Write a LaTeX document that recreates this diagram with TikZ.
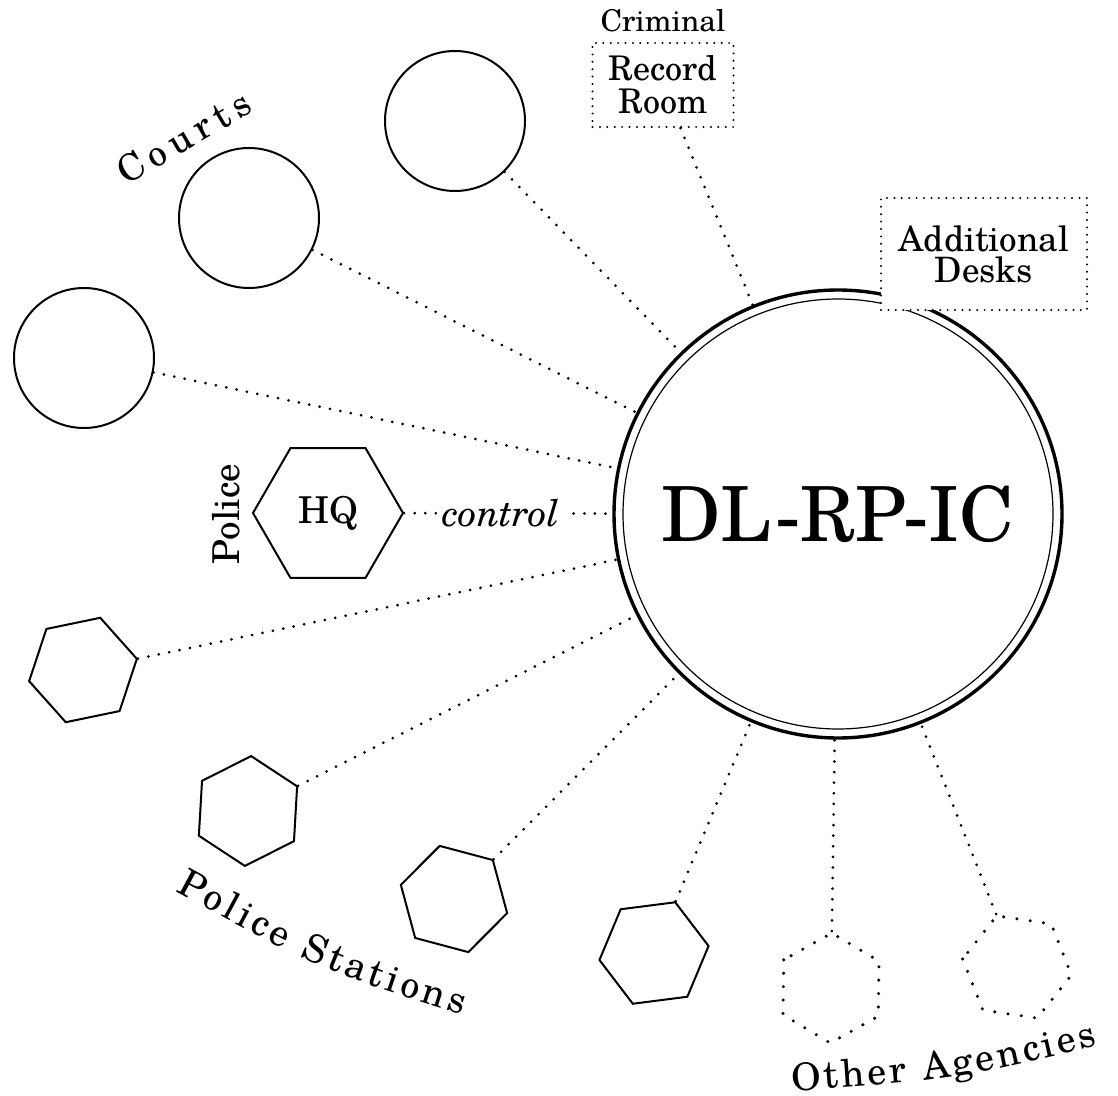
\documentclass[tikz,border=0pt]{standalone}
\usepackage{fontspec}
\setmainfont{texgyreschola}[Extension=.otf, UprightFont=*-regular, ItalicFont=*-italic, BoldFont=*-bold, BoldItalicFont=*-bolditalic]
\usetikzlibrary{shapes.geometric, decorations.text}
\begin{document}
\begin{tikzpicture}[x=0.5pt, y=-0.5pt,
  courtnode/.style={circle, draw, line width=1pt, minimum size=70pt, inner sep=0pt},
  hexnode/.style={regular polygon, regular polygon sides=6, draw, line width=1pt, minimum size=55pt, inner sep=0pt},
  agencynode/.style={regular polygon, regular polygon sides=6, draw, line width=1.7pt, dash pattern=on 0pt off 6.7pt, line cap=round, minimum size=55pt, inner sep=0pt},
  conn/.style={line width=1.5pt, dash pattern=on 0pt off 5.3pt, line cap=round},
  dotbox/.style={draw, fill=white, line width=1.1pt, dash pattern=on 0pt off 3.7pt, line cap=round, inner sep=0pt, align=center},
  lbl/.style={font=\fontsize{18.5}{20}\selectfont},
  curvetext/.style 2 args={decorate, decoration={text along path, text={|\fontsize{#2}{#2}\selectfont|#1}, text align={fit to path}}}
]
\useasboundingbox (0,0) rectangle (1118,1096);

% central node
\node[circle, draw, line width=1.7pt, minimum size=224pt, inner sep=0pt,
      font=\fontsize{38}{40}\selectfont] (main) at (838,514) {DL-RP-IC};
\draw[line width=0.6pt] (main.center) circle[radius=107.5pt];

% courts
\node[courtnode] (ct1) at (455,121) {};
\node[courtnode] (ct2) at (249,218) {};
\node[courtnode] (ct3) at (84,358) {};

% police HQ
\node[regular polygon, regular polygon sides=6, draw, line width=1pt, minimum size=75pt, inner sep=0pt, lbl] (hq) at (328,513) {HQ};
\node[lbl, rotate=90] (pol) at (226,514) {Police};

% police stations
\node[hexnode, rotate=11.7] (ps1) at (83,670) {};
\node[hexnode, rotate=26.7] (ps2) at (248,811) {};
\node[hexnode, rotate=45.1] (ps3) at (454,899) {};
\node[hexnode, rotate=67.3] (ps4) at (654,953) {};

% other agencies
\node[agencynode, rotate=89.2] (oa1) at (831,988) {};
\node[agencynode, rotate=111.6] (oa2) at (1017,967) {};

% record room
\node[font=\fontsize{15}{18}\selectfont, anchor=base] (crim) at (663,32) {Criminal};
\node[dotbox, minimum width=70.5pt, minimum height=42pt, font=\fontsize{17}{16.5}\selectfont] (rr) at (663,85) {Record\\Room};

% connectors
\draw[conn] (ct1) -- (main);
\draw[conn] (ct2) -- (main);
\draw[conn] (ct3) -- (main);
\draw[conn] (rr) -- (main);
\draw[conn] (hq) -- node[pos=0.465, fill=white, inner sep=2.5pt, font=\itshape\fontsize{18.5}{20}\selectfont] (ctl) {control} (main);
\draw[conn] (ps1) -- (main);
\draw[conn] (ps2) -- (main);
\draw[conn] (ps3) -- (main);
\draw[conn] (ps4) -- (main);
\draw[conn] (oa1) -- (main);
\draw[conn] (oa2) -- (main);

% additional desks (covers the circle)
\node[dotbox, minimum width=103pt, minimum height=56pt, font=\fontsize{17.5}{15.5}\selectfont] (ad) at (984,254) {Additional\\Desks};

% curved labels
\coordinate (cA) at (126,186);
\coordinate (cB) at (254,111);
\path[curvetext={Courts}{18.5}] (cA) -- (cB);
\coordinate (pA) at (175,891);
\coordinate (pC) at (321,970);
\coordinate (pB) at (462,1015);
\path[curvetext={Police Stations}{19}] (pA) .. controls (pC) .. (pB);
\coordinate (oA) at (792,1091);
\coordinate (oC) at (952,1080);
\coordinate (oB) at (1098,1046);
\path[curvetext={Other Agencies}{19}] (oA) .. controls (oC) .. (oB);
\end{tikzpicture}
\end{document}
